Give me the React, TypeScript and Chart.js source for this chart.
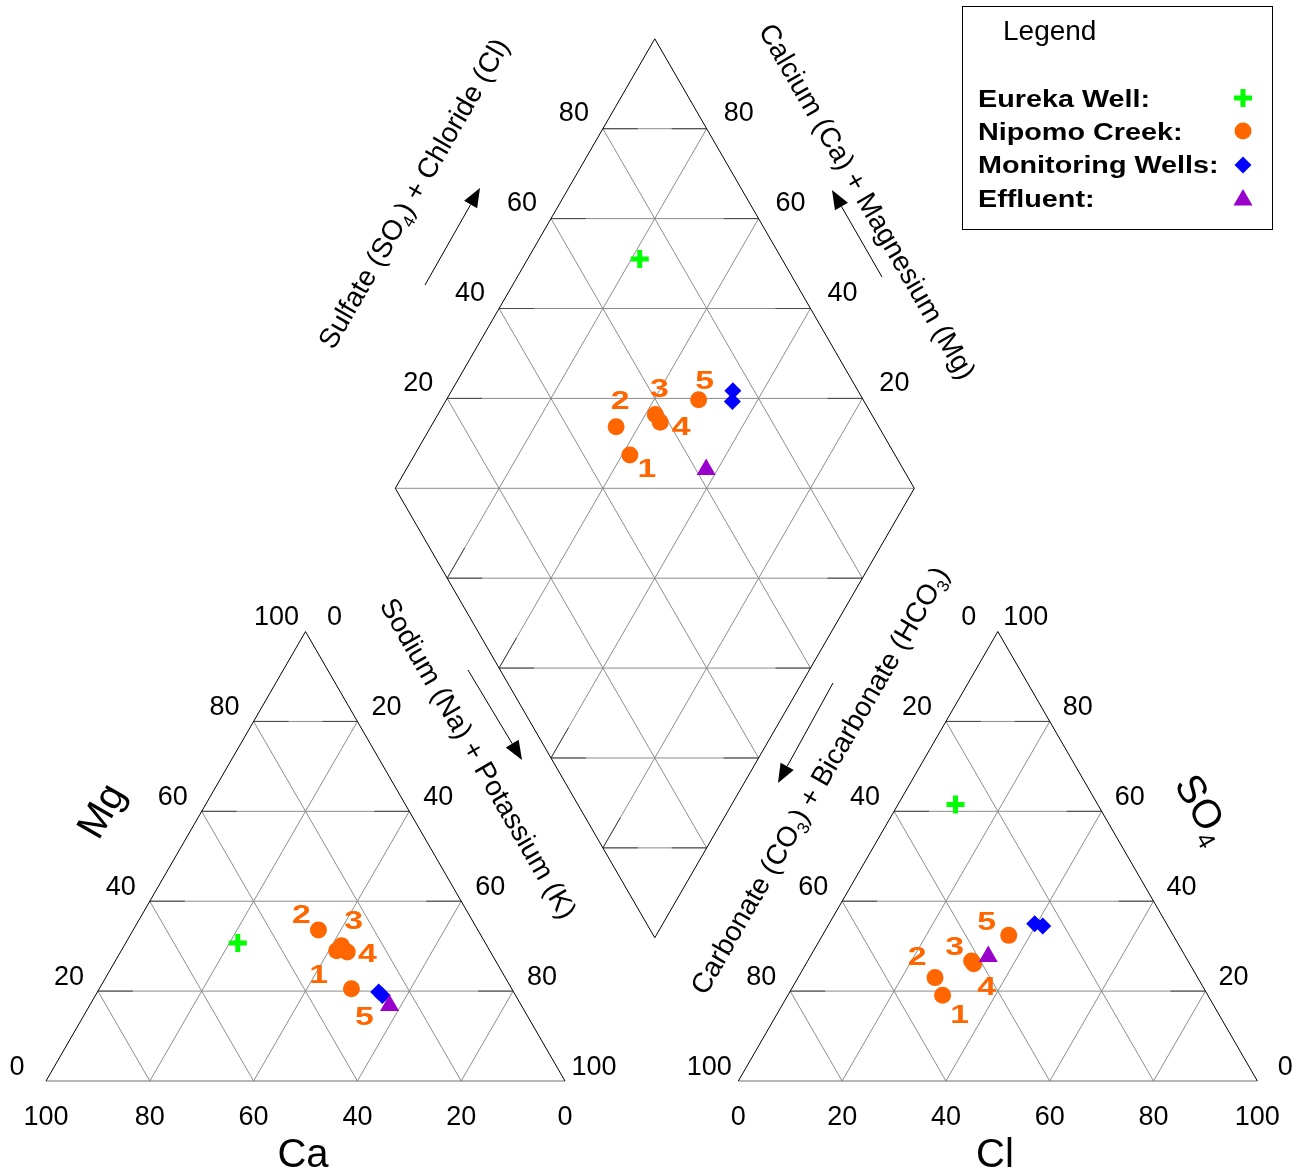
import React, { useEffect, useRef } from 'react';
import { Chart, registerables } from 'chart.js';
import { drawPoint } from 'chart.js/helpers';

Chart.register(...registerables);

// ---------------- data (percent of total meq/L) ----------------
const groupNames = ['Eureka Well:', 'Nipomo Creek:', 'Monitoring Wells:', 'Effluent:'];

const eurekaCa = [47.7];
const eurekaMg = [30.7];
const eurekaCl = [11.1];
const eurekaSO4 = [61.5];

const nipomoIds = ['1', '2', '3', '4', '5'];
const nipomoCa = [29.5, 30.7, 28.0, 27.6, 30.9];
const nipomoMg = [29.0, 33.6, 30.1, 28.7, 20.5];
const nipomoCl = [29.8, 26.4, 31.6, 32.3, 35.9];
const nipomoSO4 = [19.1, 23.0, 26.7, 26.1, 32.4];

const wellsCa = [26.0, 25.7];
const wellsMg = [19.8, 19.0];
const wellsCl = [41.4, 39.6];
const wellsSO4 = [34.5, 35.0];

const effluentCa = [25.4];
const effluentMg = [16.8];
const effluentCl = [34.3];
const effluentSO4 = [27.7];

const triTicks = [0, 20, 40, 60, 80, 100];
const gridSteps = [20, 40, 60, 80];
const diamondTicks = [20, 40, 60, 80];
const diamondLevels = [20, 40, 60, 80, 100, 120, 140, 160, 180];

// ---------------- layout ----------------
const CANVAS_W = 1302;
const CANVAS_H = 1175;
const UNIT = 5.19; // px per percent
const ORIGIN = { x: 46, y: 1081 };
const SQ = Math.sqrt(3) / 2;
const LEFT_TRI = { x: 0, y: 0 };
const RIGHT_TRI = { x: 133.4, y: 0 };
const DIAMOND = { x: 117.3, y: 27.6 };
const FONT = '"Liberation Sans", Arial, Helvetica, sans-serif';
const GRID = '#8c8c8c';
const TICK = '#454545';
const EDGE = '#000000';
const TICK_LEN = 35;
const BOLD_STRETCH = 1.25;

const cationPos = (ca: number, mg: number) => ({
  x: LEFT_TRI.x + (100 - ca - mg) + mg / 2,
  y: LEFT_TRI.y + mg * SQ,
});
const anionPos = (cl: number, so4: number) => ({
  x: RIGHT_TRI.x + cl + so4 / 2,
  y: RIGHT_TRI.y + so4 * SQ,
});
const diamondPos = (ca: number, mg: number, cl: number, so4: number) => {
  const C = ca + mg;
  const S = cl + so4;
  return { x: DIAMOND.x + (S - C) / 2, y: DIAMOND.y + (S + C) * SQ };
};
const piperPoints = (ca: number[], mg: number[], cl: number[], so4: number[]) => [
  ...ca.map((v, i) => cationPos(v, mg[i])),
  ...ca.map((v, i) => diamondPos(v, mg[i], cl[i], so4[i])),
  ...cl.map((v, i) => anionPos(v, so4[i])),
];

const groupStyles: any[] = [
  { pointStyle: 'cross', color: '#00ff00', radius: 9, border: 5 },
  { pointStyle: 'circle', color: '#ff6600', radius: 8.5, border: 0 },
  { pointStyle: 'rectRot', color: '#0000ff', radius: 8.5, border: 0 },
  { pointStyle: 'triangle', color: '#9900cc', radius: 11, border: 0 },
];

// label offsets (px) for Nipomo numbers: left triangle, diamond, right triangle
const nipomoLabelOffsets = [
  [-18, 23], [-17, -16], [12, -26], [20, 1], [13, 27],
  [17, 13], [4, -27], [4, -27], [21, 3], [6, -20],
  [17, 18], [-18, -22], [-17, -15], [13, 22], [-22, -15],
];

type Part = { t: string; sub?: boolean };

function drawRich(
  ctx: CanvasRenderingContext2D,
  parts: Part[],
  cx: number,
  cy: number,
  angleDeg: number,
  fs: number,
  bold = false,
  stretch = 1,
  color = '#000',
  align: 'center' | 'left' = 'center'
) {
  ctx.save();
  ctx.translate(cx, cy);
  ctx.rotate((angleDeg * Math.PI) / 180);
  ctx.scale(stretch, 1);
  ctx.textAlign = 'left';
  ctx.textBaseline = 'alphabetic';
  ctx.fillStyle = color;
  const fontFor = (p: Part) => `${bold ? 'bold ' : ''}${p.sub ? Math.round(fs * 0.62) : fs}px ${FONT}`;
  const ws = parts.map((p) => {
    ctx.font = fontFor(p);
    return ctx.measureText(p.t).width;
  });
  const total = ws.reduce((a, b) => a + b, 0);
  let x = align === 'center' ? -total / 2 : 0;
  parts.forEach((p, i) => {
    ctx.font = fontFor(p);
    ctx.fillText(p.t, x, 0.36 * fs + (p.sub ? 0.22 * fs : 0));
    x += ws[i];
  });
  ctx.restore();
}

function arrow(ctx: CanvasRenderingContext2D, x1: number, y1: number, x2: number, y2: number) {
  const a = Math.atan2(y2 - y1, x2 - x1);
  const hl = 19;
  const hw = 7.5;
  const bx = x2 - hl * Math.cos(a);
  const by = y2 - hl * Math.sin(a);
  ctx.save();
  ctx.strokeStyle = '#000';
  ctx.fillStyle = '#000';
  ctx.lineWidth = 1;
  ctx.beginPath();
  ctx.moveTo(x1, y1);
  ctx.lineTo(bx, by);
  ctx.stroke();
  ctx.beginPath();
  ctx.moveTo(x2, y2);
  ctx.lineTo(bx + hw * Math.sin(a), by - hw * Math.cos(a));
  ctx.lineTo(bx - hw * Math.sin(a), by + hw * Math.cos(a));
  ctx.closePath();
  ctx.fill();
  ctx.restore();
}

const gridPlugin = {
  id: 'piperGrid',
  beforeDatasetsDraw(chart: any) {
    const ctx: CanvasRenderingContext2D = chart.ctx;
    const xs = chart.scales.x;
    const ys = chart.scales.y;
    const P = (u: number, v: number): [number, number] => [xs.getPixelForValue(u), ys.getPixelForValue(v)];
    const line = (a: [number, number], b: [number, number], color: string) => {
      ctx.beginPath();
      ctx.moveTo(a[0], a[1]);
      ctx.lineTo(b[0], b[1]);
      ctx.strokeStyle = color;
      ctx.lineWidth = 1;
      ctx.stroke();
    };
    const tick = (a: [number, number], b: [number, number]) => {
      const dx = b[0] - a[0];
      const dy = b[1] - a[1];
      const L = Math.hypot(dx, dy);
      line(a, [a[0] + (dx / L) * TICK_LEN, a[1] + (dy / L) * TICK_LEN], TICK);
    };
    ctx.save();
    // triangles
    [LEFT_TRI, RIGHT_TRI].forEach((o) => {
      gridSteps.forEach((k) => {
        const b = P(o.x + k, o.y);
        const r = P(o.x + k + (100 - k) / 2, o.y + (100 - k) * SQ);
        const l = P(o.x + k / 2, o.y + k * SQ);
        line(b, r, GRID);
        line(b, l, GRID);
        const h1 = P(o.x + k / 2, o.y + k * SQ);
        const h2 = P(o.x + 100 - k / 2, o.y + k * SQ);
        line(h1, h2, GRID);
        tick(h1, h2);
        tick(h2, h1);
      });
      const A = P(o.x, o.y);
      const B = P(o.x + 100, o.y);
      const T = P(o.x + 50, o.y + 100 * SQ);
      line(A, B, '#707070');
      line(A, T, EDGE);
      line(T, B, EDGE);
    });
    // diamond
    const D = DIAMOND;
    const pt = (C: number, S: number) => P(D.x + (S - C) / 2, D.y + (S + C) * SQ);
    diamondTicks.forEach((k) => {
      const a1 = pt(k, 0);
      const a2 = pt(k, 100);
      line(a1, a2, GRID);
      tick(a1, a2);
      const b1 = pt(0, k);
      const b2 = pt(100, k);
      line(b1, b2, GRID);
    });
    diamondLevels.forEach((j) => {
      const half = j <= 100 ? j / 2 : (200 - j) / 2;
      const a = P(D.x - half, D.y + j * SQ);
      const b = P(D.x + half, D.y + j * SQ);
      line(a, b, GRID);
      if (j !== 100) {
        tick(a, b);
        tick(b, a);
      }
    });
    line(pt(0, 0), pt(100, 0), EDGE);
    line(pt(100, 0), pt(100, 100), EDGE);
    line(pt(100, 100), pt(0, 100), EDGE);
    line(pt(0, 100), pt(0, 0), EDGE);
    ctx.restore();
  },
  afterDatasetsDraw(chart: any) {
    const ctx: CanvasRenderingContext2D = chart.ctx;
    // Nipomo numbers
    const meta = chart.getDatasetMeta(1);
    meta.data.forEach((el: any, i: number) => {
      const off = nipomoLabelOffsets[i];
      const id = nipomoIds[i % nipomoIds.length];
      drawRich(ctx, [{ t: id }], el.x + off[0], el.y + off[1], 0, 26, true, 1.3, '#ff6600');
    });
  },
  afterDraw(chart: any) {
    const ctx: CanvasRenderingContext2D = chart.ctx;
    const xs = chart.scales.x;
    const ys = chart.scales.y;
    const P = (u: number, v: number): [number, number] => [xs.getPixelForValue(u), ys.getPixelForValue(v)];
    const fs = 27;
    const lab = (v: number, p: [number, number], dx: number, dy: number) =>
      drawRich(ctx, [{ t: String(v) }], p[0] + dx, p[1] + dy, 0, fs);

    // left triangle: Ca bottom, Mg left, Na+K right
    const L = LEFT_TRI;
    triTicks.forEach((v) => {
      lab(v, P(L.x + (100 - v), L.y), 0, 34);
      lab(v, P(L.x + v / 2, L.y + v * SQ), -29, -16);
      lab(v, P(L.x + v + (100 - v) / 2, L.y + (100 - v) * SQ), 29, -16);
    });
    // right triangle: Cl bottom, HCO3 left, SO4 right
    const R = RIGHT_TRI;
    triTicks.forEach((v) => {
      lab(v, P(R.x + v, R.y), 0, 34);
      lab(v, P(R.x + (100 - v) / 2, R.y + (100 - v) * SQ), -29, -16);
      lab(v, P(R.x + 100 - v / 2, R.y + v * SQ), 28, -16);
    });
    // diamond
    const D = DIAMOND;
    const pt = (C: number, S: number) => P(D.x + (S - C) / 2, D.y + (S + C) * SQ);
    diamondTicks.forEach((v) => {
      lab(v, pt(100, v), -29, -17);
      lab(v, pt(v, 100), 32, -17);
    });

    // axis titles
    drawRich(ctx, [{ t: 'Ca' }], 303, 1153, 0, 40);
    drawRich(ctx, [{ t: 'Cl' }], 995, 1153, 0, 40);
    drawRich(ctx, [{ t: 'Mg' }], 100, 810, -60, 40);
    drawRich(ctx, [{ t: 'SO' }, { t: '4', sub: true }], 1204, 808, 60, 40);
    drawRich(ctx, [{ t: 'Sulfate (SO' }, { t: '4', sub: true }, { t: ') + Chloride (Cl)' }], 413, 193, -60, 28);
    drawRich(ctx, [{ t: 'Calcium (Ca) + Magnesium (Mg)' }], 868, 201, 60, 28);
    drawRich(ctx, [{ t: 'Sodium (Na) + Potassium (K)' }], 479, 758, 60, 28);
    drawRich(
      ctx,
      [{ t: 'Carbonate (CO' }, { t: '3', sub: true }, { t: ') + Bicarbonate (HCO' }, { t: '3', sub: true }, { t: ')' }],
      819,
      780,
      -60,
      28
    );
    arrow(ctx, 425, 285, 480, 188);
    arrow(ctx, 882, 277, 832, 190);
    arrow(ctx, 468, 670, 522, 760);
    arrow(ctx, 833, 683, 778, 783);

    // legend
    ctx.save();
    ctx.strokeStyle = '#000';
    ctx.lineWidth = 1;
    ctx.strokeRect(962.5, 6.5, 310, 223);
    ctx.restore();
    drawRich(ctx, [{ t: 'Legend' }], 1003, 30, 0, 28, false, 1, '#000', 'left');
    const rowY = [98.5, 131.5, 165, 198.5];
    const markY = [98, 131, 165, 200];
    groupNames.forEach((name, i) => {
      drawRich(ctx, [{ t: name }], 978, rowY[i], 0, 23, true, BOLD_STRETCH, '#000', 'left');
      const st = groupStyles[i];
      ctx.save();
      ctx.fillStyle = st.color;
      ctx.strokeStyle = st.color;
      ctx.lineWidth = st.border;
      drawPoint(ctx, { pointStyle: st.pointStyle, radius: st.radius, borderWidth: st.border, rotation: 0 } as any, 1243, markY[i]);
      ctx.restore();
    });
  },
};

export default function App() {
  const ref = useRef<HTMLCanvasElement>(null);
  useEffect(() => {
    const canvas = ref.current;
    if (!canvas) return;
    const series = [
      piperPoints(eurekaCa, eurekaMg, eurekaCl, eurekaSO4),
      piperPoints(nipomoCa, nipomoMg, nipomoCl, nipomoSO4),
      piperPoints(wellsCa, wellsMg, wellsCl, wellsSO4),
      piperPoints(effluentCa, effluentMg, effluentCl, effluentSO4),
    ];
    const orders = [3, 2, 1, 0];
    const chart = new Chart(canvas, {
      type: 'scatter',
      data: {
        datasets: series.map((data, i) => ({
          label: groupNames[i],
          data,
          order: orders[i],
          showLine: false,
          clip: false,
          pointStyle: groupStyles[i].pointStyle,
          pointRadius: groupStyles[i].radius,
          pointHoverRadius: groupStyles[i].radius,
          pointBorderWidth: groupStyles[i].border,
          backgroundColor: groupStyles[i].color,
          borderColor: groupStyles[i].color,
        })),
      },
      options: {
        responsive: false,
        maintainAspectRatio: false,
        animation: false,
        devicePixelRatio: 1,
        layout: { padding: 0, autoPadding: false },
        events: [],
        plugins: { legend: { display: false }, tooltip: { enabled: false } },
        scales: {
          x: {
            type: 'linear',
            display: false,
            min: -ORIGIN.x / UNIT,
            max: (CANVAS_W - ORIGIN.x) / UNIT,
          },
          y: {
            type: 'linear',
            display: false,
            min: -(CANVAS_H - ORIGIN.y) / UNIT,
            max: ORIGIN.y / UNIT,
          },
        },
      },
      plugins: [gridPlugin],
    } as any);
    return () => chart.destroy();
  }, []);
  return (
    <div style={{ position: 'absolute', left: 0, top: 0, width: CANVAS_W, height: CANVAS_H, background: '#fff' }}>
      <canvas ref={ref} width={CANVAS_W} height={CANVAS_H} style={{ display: 'block' }} />
    </div>
  );
}
